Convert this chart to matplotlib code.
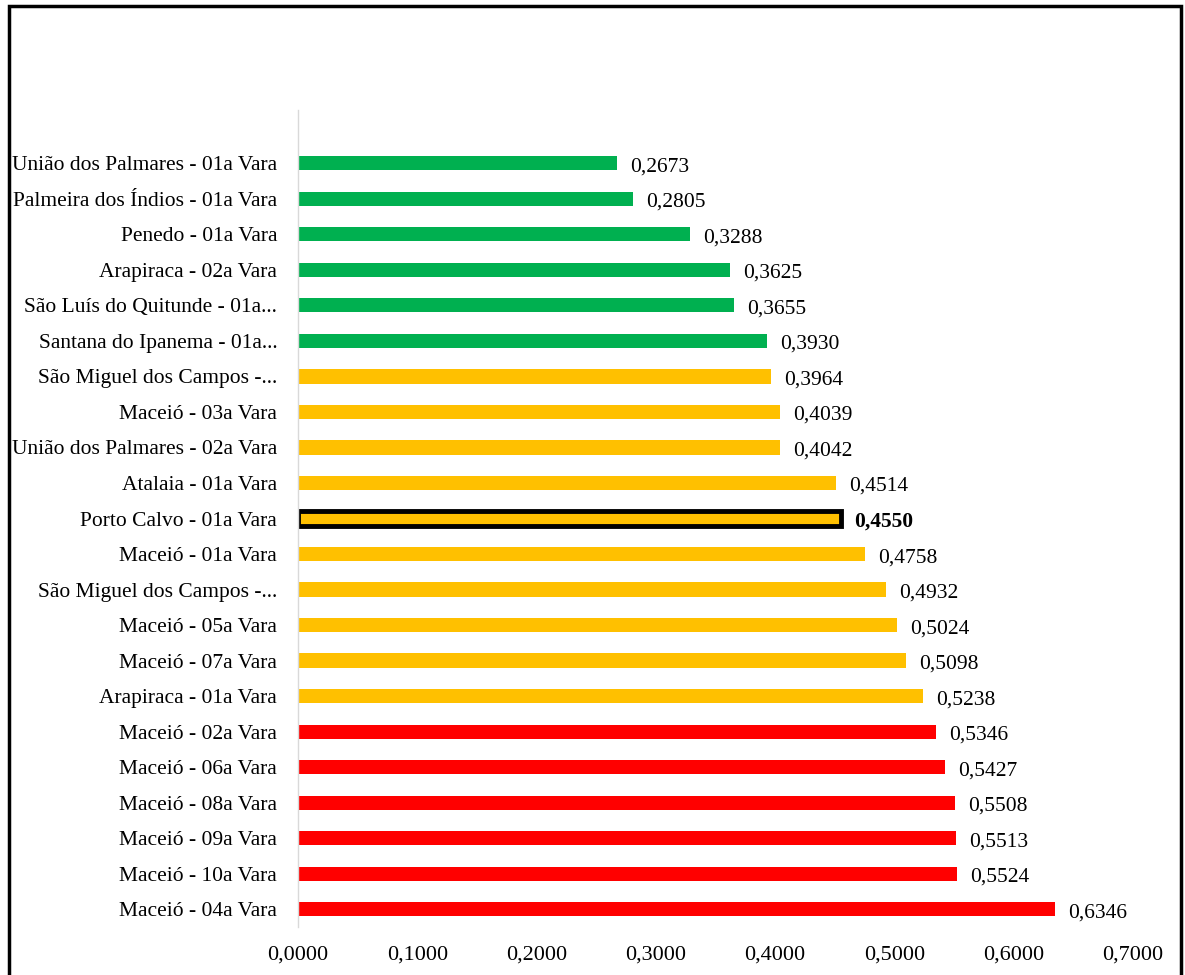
import matplotlib.pyplot as plt
from matplotlib.patches import Rectangle

plt.rcParams["font.family"] = ["Liberation Serif", "DejaVu Serif"]

labels = [
    "União dos Palmares - 01a Vara",
    "Palmeira dos Índios - 01a Vara",
    "Penedo - 01a Vara",
    "Arapiraca - 02a Vara",
    "São Luís do Quitunde - 01a...",
    "Santana do Ipanema - 01a...",
    "São Miguel dos Campos -...",
    "Maceió - 03a Vara",
    "União dos Palmares - 02a Vara",
    "Atalaia - 01a Vara",
    "Porto Calvo - 01a Vara",
    "Maceió - 01a Vara",
    "São Miguel dos Campos -...",
    "Maceió - 05a Vara",
    "Maceió - 07a Vara",
    "Arapiraca - 01a Vara",
    "Maceió - 02a Vara",
    "Maceió - 06a Vara",
    "Maceió - 08a Vara",
    "Maceió - 09a Vara",
    "Maceió - 10a Vara",
    "Maceió - 04a Vara",
]
values = [
    0.2673, 0.2805, 0.3288, 0.3625, 0.3655, 0.3930,
    0.3964, 0.4039, 0.4042, 0.4514, 0.4550, 0.4758,
    0.4932, 0.5024, 0.5098, 0.5238,
    0.5346, 0.5427, 0.5508, 0.5513, 0.5524, 0.6346,
]
groups = ["verde"] * 6 + ["amarelo"] * 10 + ["vermelho"] * 6
highlight = "Porto Calvo - 01a Vara"

group_colors = {"verde": "#00b050", "amarelo": "#ffc000", "vermelho": "#ff0000"}
colors = [group_colors[g] for g in groups]
xticks = [0.0, 0.1, 0.2, 0.3, 0.4, 0.5, 0.6, 0.7]

fig = plt.figure(figsize=(11.85, 9.75), dpi=100)
ax = fig.add_axes([0.2515, 0.0492, 0.7045, 0.8380])

pos = list(range(len(values)))
bars = ax.barh(pos, values, height=0.4, color=colors)

for bar, lab, v in zip(bars, labels, values):
    bold = lab == highlight
    if bold:
        bar.set_edgecolor("black")
        bar.set_linewidth(3.5)
    ax.text(v + 0.011, bar.get_y() + bar.get_height() / 2 + 0.1,
            f"{v:.4f}".replace(".", ","), va="center", ha="left",
            fontsize=15.5, fontweight="bold" if bold else "normal")

ax.set_yticks(pos)
ax.set_yticklabels(labels, fontsize=15.5)
ax.set_ylim(len(values) - 0.5, -1.5)

ax.set_xlim(0, 0.7)
ax.set_xticks(xticks)
ax.set_xticklabels([f"{t:.4f}".replace(".", ",") for t in xticks], fontsize=16)

ax.tick_params(axis="both", length=0)
ax.tick_params(axis="y", pad=15)
ax.tick_params(axis="x", pad=13)
for side in ["top", "right", "bottom"]:
    ax.spines[side].set_visible(False)
ax.spines["left"].set_color("#d9d9d9")
ax.spines["left"].set_linewidth(1)

# moldura preta em volta do gráfico
fig.patches.append(Rectangle((0.0075, -0.02), 0.9895, 1.014,
                             transform=fig.transFigure, fill=False,
                             edgecolor="black", linewidth=2.5))

fig.savefig("out.png", dpi=100)
